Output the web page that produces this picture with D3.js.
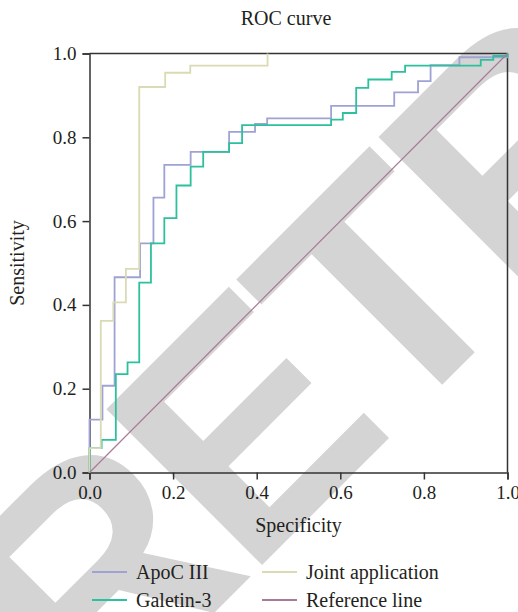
<!DOCTYPE html>
<html>
<head>
<meta charset="utf-8">
<script src="https://cdn.jsdelivr.net/npm/d3@7"></script>
<style>
  body { margin: 0; background: #fff; }
  text { font-family: "Liberation Serif", "DejaVu Serif", serif; fill: #231f20; }
</style>
</head>
<body>
<svg id="chart" width="518" height="612"></svg>
<script>
// ROC points (x = 1 - specificity, y = sensitivity), drawn as steps
const apocX = [0, 0, 0.031, 0.060, 0.121, 0.153, 0.179, 0.242, 0.334, 0.396, 0.425, 0.578, 0.729, 0.786, 0.816, 0.885, 1];
const apocY = [0, 0.126, 0.207, 0.466, 0.547, 0.656, 0.734, 0.765, 0.813, 0.832, 0.845, 0.875, 0.907, 0.934, 0.972, 0.991, 1];

const galX = [0, 0, 0.029, 0.063, 0.091, 0.119, 0.147, 0.179, 0.208, 0.242, 0.272, 0.334, 0.365, 0.578, 0.606, 0.638, 0.667, 0.723, 0.755, 0.936, 0.966, 1];
const galY = [0, 0.058, 0.078, 0.235, 0.263, 0.453, 0.547, 0.607, 0.685, 0.730, 0.765, 0.786, 0.829, 0.842, 0.858, 0.918, 0.938, 0.956, 0.971, 0.985, 0.994, 1];

const jointX = [0, 0, 0.027, 0.057, 0.087, 0.119, 0.181, 0.241, 0.426];
const jointY = [0, 0.058, 0.362, 0.406, 0.486, 0.920, 0.954, 0.971, 1];

const refX = [0, 1];
const refY = [0, 1];

const ticks = [0, 0.2, 0.4, 0.6, 0.8, 1.0];

const series = [
  {name: "ApoC III", xs: apocX, ys: apocY, color: "#9ea2d4"},
  {name: "Galetin-3", xs: galX, ys: galY, color: "#2dc09c"},
  {name: "Joint application", xs: jointX, ys: jointY, color: "#dadab4"},
  {name: "Reference line", xs: refX, ys: refY, color: "#a97a98"}
];

const svg = d3.select("#chart");

// watermark in the background
svg.append("text")
  .attr("transform", "translate(92,735) rotate(-45)")
  .style("font-family", "'Liberation Sans', Arial, sans-serif")
  .style("font-weight", "bold")
  .style("font-size", "320px")
  .style("letter-spacing", "-12px")
  .style("fill", "#d4d4d4")
  .text("RETRACTED");

const x = d3.scaleLinear().domain([0, 1]).range([89.5, 507.5]);
const y = d3.scaleLinear().domain([0, 1]).range([472.5, 53.5]);

// frame top and right
svg.append("line")
  .attr("x1", x(0)).attr("x2", x(1)).attr("y1", y(1)).attr("y2", y(1))
  .attr("stroke", "#333").attr("stroke-width", 1.5);
svg.append("line")
  .attr("x1", x(1)).attr("x2", x(1)).attr("y1", y(0)).attr("y2", y(1))
  .attr("stroke", "#333").attr("stroke-width", 1.5);

const xAxis = svg.append("g")
  .attr("transform", "translate(0," + y(0) + ")")
  .call(d3.axisBottom(x).tickValues(ticks).tickFormat(d3.format(".1f")).tickSize(7).tickPadding(6));
const yAxis = svg.append("g")
  .attr("transform", "translate(" + x(0) + ",0)")
  .call(d3.axisLeft(y).tickValues(ticks).tickFormat(d3.format(".1f")).tickSize(7).tickPadding(6));

[xAxis, yAxis].forEach(g => {
  g.select(".domain").attr("stroke", "#333").attr("stroke-width", 1.5);
  g.selectAll(".tick line").attr("stroke", "#333").attr("stroke-width", 1.5);
  g.selectAll(".tick text")
    .style("font-family", "'Liberation Serif', serif")
    .style("font-size", "19px")
    .attr("fill", "#231f20");
});

// curves
const line = d3.line().curve(d3.curveStepAfter);
series.forEach(s => {
  const pts = s.xs.map((v, i) => [x(v), y(s.ys[i])]);
  svg.append("path")
    .attr("d", s.name === "Reference line" ? d3.line()(pts) : line(pts))
    .attr("fill", "none")
    .attr("stroke", s.color)
    .attr("stroke-width", s.name === "Reference line" ? 1.2 : 1.8);
});

// title and axis labels
svg.append("text").attr("x", 286).attr("y", 25).attr("text-anchor", "middle")
  .style("font-size", "20px").text("ROC curve");
svg.append("text").attr("x", x(0.5)).attr("y", 532).attr("text-anchor", "middle")
  .style("font-size", "20px").text("Specificity");
svg.append("text").attr("transform", "translate(24," + y(0.5) + ") rotate(-90)")
  .attr("text-anchor", "middle").style("font-size", "20px").text("Sensitivity");

// legend
const legPos = [[92, 572], [92, 600], [262, 572], [262, 600]];
series.forEach((s, i) => {
  const [lx, ly] = legPos[i];
  svg.append("line").attr("x1", lx).attr("x2", lx + 35).attr("y1", ly).attr("y2", ly)
    .attr("stroke", s.color).attr("stroke-width", 1.8);
  svg.append("text").attr("x", lx + 44).attr("y", ly + 7)
    .style("font-size", "20px").text(s.name);
});
</script>
</body>
</html>
